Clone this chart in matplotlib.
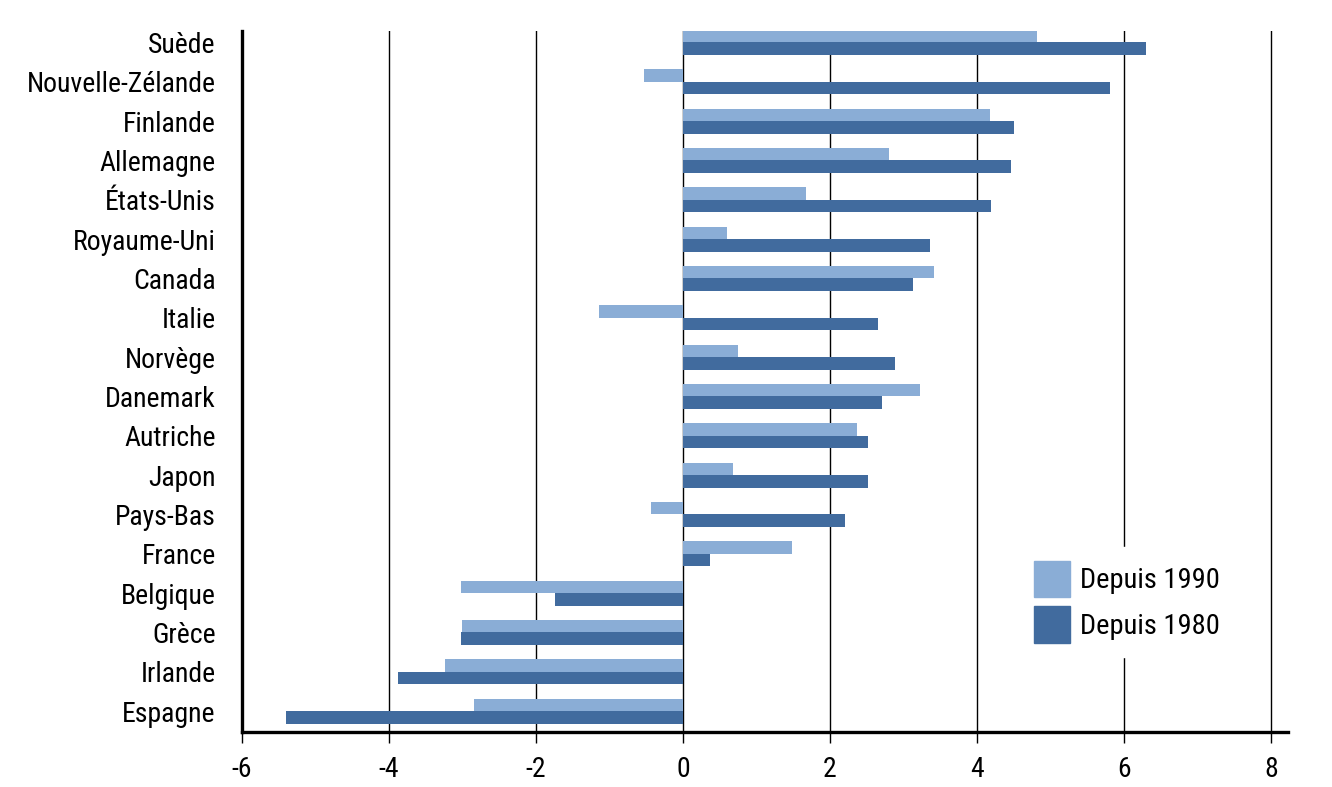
import numpy as np
import matplotlib.pyplot as plt
from matplotlib.patches import Patch
from matplotlib import font_manager

pays = ['Suède', 'Nouvelle-Zélande', 'Finlande', 'Allemagne', 'États-Unis',
        'Royaume-Uni', 'Canada', 'Italie', 'Norvège', 'Danemark', 'Autriche',
        'Japon', 'Pays-Bas', 'France', 'Belgique', 'Grèce', 'Irlande', 'Espagne']
depuis_1990 = [4.82, -0.53, 4.18, 2.80, 1.67, 0.60, 3.41, -1.14, 0.75, 3.22,
               2.37, 0.68, -0.44, 1.48, -3.02, -3.01, -3.24, -2.84]
depuis_1980 = [6.30, 5.81, 4.50, 4.46, 4.19, 3.36, 3.13, 2.65, 2.88, 2.71,
               2.52, 2.52, 2.20, 0.37, -1.74, -3.02, -3.88, -5.40]
xticks = [-6, -4, -2, 0, 2, 4, 6, 8]

light = '#8aadd6'
dark = '#416b9e'

# police étroite si disponible
dispo = {f.name for f in font_manager.fontManager.ttflist}
choix = [f for f in ['Liberation Sans Narrow', 'DejaVu Sans Condensed',
                     'Roboto Condensed', 'Roboto'] if f in dispo]
police = choix[0] if choix else 'DejaVu Sans'
plt.rcParams['font.family'] = [police, 'DejaVu Sans']

fig = plt.figure(figsize=(13.32, 7.87), dpi=100)
ax = fig.add_axes([0.1817, 0.0699, 0.967 - 0.1817, 0.9606 - 0.0699])

y = np.arange(len(pays))
h = 0.32
ax.barh(y - h / 2, depuis_1990, height=h, color=light, zorder=3)
ax.barh(y + h / 2, depuis_1980, height=h, color=dark, zorder=3)

ax.set_ylim(17.53, -0.29)
ax.set_xlim(-6, 8.23)
ax.set_yticks(y)
ax.set_yticklabels(pays, fontsize=20)
ax.set_xticks(xticks)
ax.set_xticklabels([str(t) for t in xticks], fontsize=20)
ax.tick_params(axis='y', length=0, pad=19)
ax.tick_params(axis='x', length=8, width=1, pad=9)

for t in xticks[1:]:
    ax.axvline(t, color='black', lw=1, zorder=1)

for s in ['top', 'right']:
    ax.spines[s].set_visible(False)
ax.spines['left'].set_linewidth(2.4)
ax.spines['bottom'].set_linewidth(2.4)
ax.spines['left'].set_zorder(4)

handles = [Patch(color=light, label='Depuis 1990'), Patch(color=dark, label='Depuis 1980')]
leg = ax.legend(handles=handles, loc='lower right', bbox_to_anchor=(0.962, 0.087),
                fontsize=20.5, frameon=True, handlelength=1.27, handleheight=1.6,
                handletextpad=0.35, borderpad=0.5, labelspacing=0.3)
leg.get_frame().set_edgecolor('white')
leg.get_frame().set_facecolor('white')
leg.get_frame().set_alpha(1)
leg.set_zorder(5)

plt.savefig('out.png', dpi=100)
